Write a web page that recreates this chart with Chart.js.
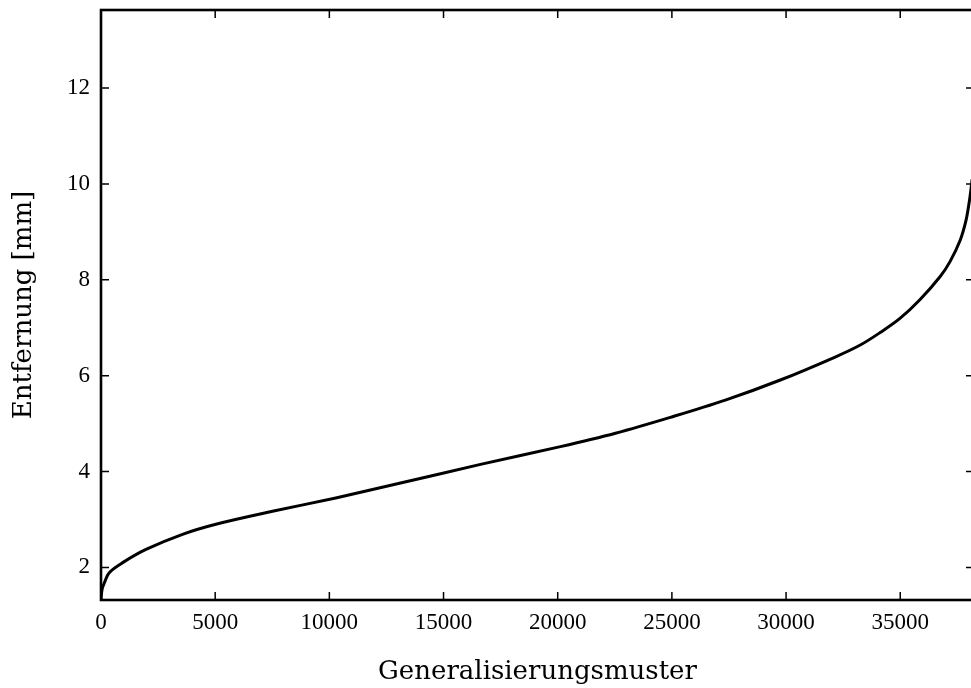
<!DOCTYPE html>
<html>
<head>
<meta charset="utf-8">
<script src="https://cdn.jsdelivr.net/npm/chart.js@4"></script>
<style>
  html, body { margin: 0; padding: 0; background: #fff; overflow: hidden; }
  #wrap { width: 971px; height: 688px; overflow: hidden; }
</style>
</head>
<body>
<div id="wrap"><canvas id="chart" width="976" height="688"></canvas></div>
<script>
// Generalisierungsmuster (x) vs Entfernung in mm (y)
const muster = [0, 50, 150, 360, 950, 1970, 3570, 5030, 7510, 10280, 13120, 16620,
                20120, 22530, 24930, 27340, 29750, 32150, 33250, 34120, 35000, 35870,
                36750, 37180, 37620, 37880, 38030, 38090, 38150]
const entfernung = [1.33, 1.55, 1.68, 1.89, 2.10, 2.375, 2.69, 2.90, 3.17, 3.45, 3.76, 4.15,
                    4.52, 4.80, 5.13, 5.49, 5.91, 6.39, 6.64, 6.90, 7.20, 7.59,
                    8.07, 8.38, 8.82, 9.24, 9.65, 9.86, 10.10]
const xTicks = [0, 5000, 10000, 15000, 20000, 25000, 30000, 35000]
const yTicks = [2, 4, 6, 8, 10, 12]
const xRange = [0, 38230]
const yRange = [1.32, 13.63]

const SERIF = '"Liberation Serif", "Times New Roman", serif'
const TITLE = '"DejaVu Serif", serif'

// gnuplot-style frame with inward ticks on all four sides
const framePlugin = {
  id: 'frame',
  afterDraw(chart) {
    const { ctx, chartArea: a, scales } = chart
    ctx.save()
    ctx.strokeStyle = '#000'
    ctx.lineWidth = 1.5
    const t = 8
    ctx.beginPath()
    scales.x.ticks.forEach(tk => {
      const px = scales.x.getPixelForValue(tk.value)
      ctx.moveTo(px, a.bottom); ctx.lineTo(px, a.bottom - t)
      ctx.moveTo(px, a.top); ctx.lineTo(px, a.top + t)
    })
    scales.y.ticks.forEach(tk => {
      const py = scales.y.getPixelForValue(tk.value)
      ctx.moveTo(a.left, py); ctx.lineTo(a.left + t, py)
      ctx.moveTo(a.right, py); ctx.lineTo(a.right - t, py)
    })
    ctx.stroke()
    ctx.lineWidth = 2.6
    ctx.strokeRect(a.left, a.top, a.right - a.left, a.bottom - a.top)
    ctx.restore()
  }
}

new Chart(document.getElementById('chart'), {
  type: 'line',
  data: {
    datasets: [{
      data: muster.map((x, i) => ({ x, y: entfernung[i] })),
      borderColor: '#000',
      borderWidth: 3,
      pointRadius: 0,
      fill: false,
      tension: 0.35,
    }],
  },
  options: {
    responsive: false,
    animation: false,
    devicePixelRatio: 1,
    layout: { padding: { top: 10, right: 2, left: 0, bottom: 0 } },
    plugins: { legend: { display: false }, tooltip: { enabled: false } },
    scales: {
      x: {
        type: 'linear',
        min: xRange[0], max: xRange[1],
        grid: { display: false, drawTicks: false },
        border: { display: false },
        afterBuildTicks(s) { s.ticks = xTicks.map(value => ({ value })) },
        ticks: { autoSkip: false, maxRotation: 0, color: '#000', padding: 9,
                 callback: v => String(v), font: { family: SERIF, size: 23 } },
        title: { display: true, text: 'Generalisierungsmuster', color: '#000',
                 padding: { top: 0, bottom: 0 }, font: { family: TITLE, size: 26 } },
        afterFit(s) { s.height = 88; s.paddingLeft = 0; s.paddingRight = 0 },
      },
      y: {
        min: yRange[0], max: yRange[1],
        grid: { display: false, drawTicks: false },
        border: { display: false },
        afterBuildTicks(s) { s.ticks = yTicks.map(value => ({ value })) },
        ticks: { autoSkip: false, color: '#000', padding: 11,
                 callback: v => String(v), font: { family: SERIF, size: 23 } },
        title: { display: true, text: 'Entfernung [mm]', color: '#000',
                 padding: { top: 9, bottom: 0 }, font: { family: TITLE, size: 26 } },
        afterFit(s) { s.width = 101; s.paddingTop = 0; s.paddingBottom = 0 },
      },
    },
  },
  plugins: [framePlugin],
})
</script>
</body>
</html>
